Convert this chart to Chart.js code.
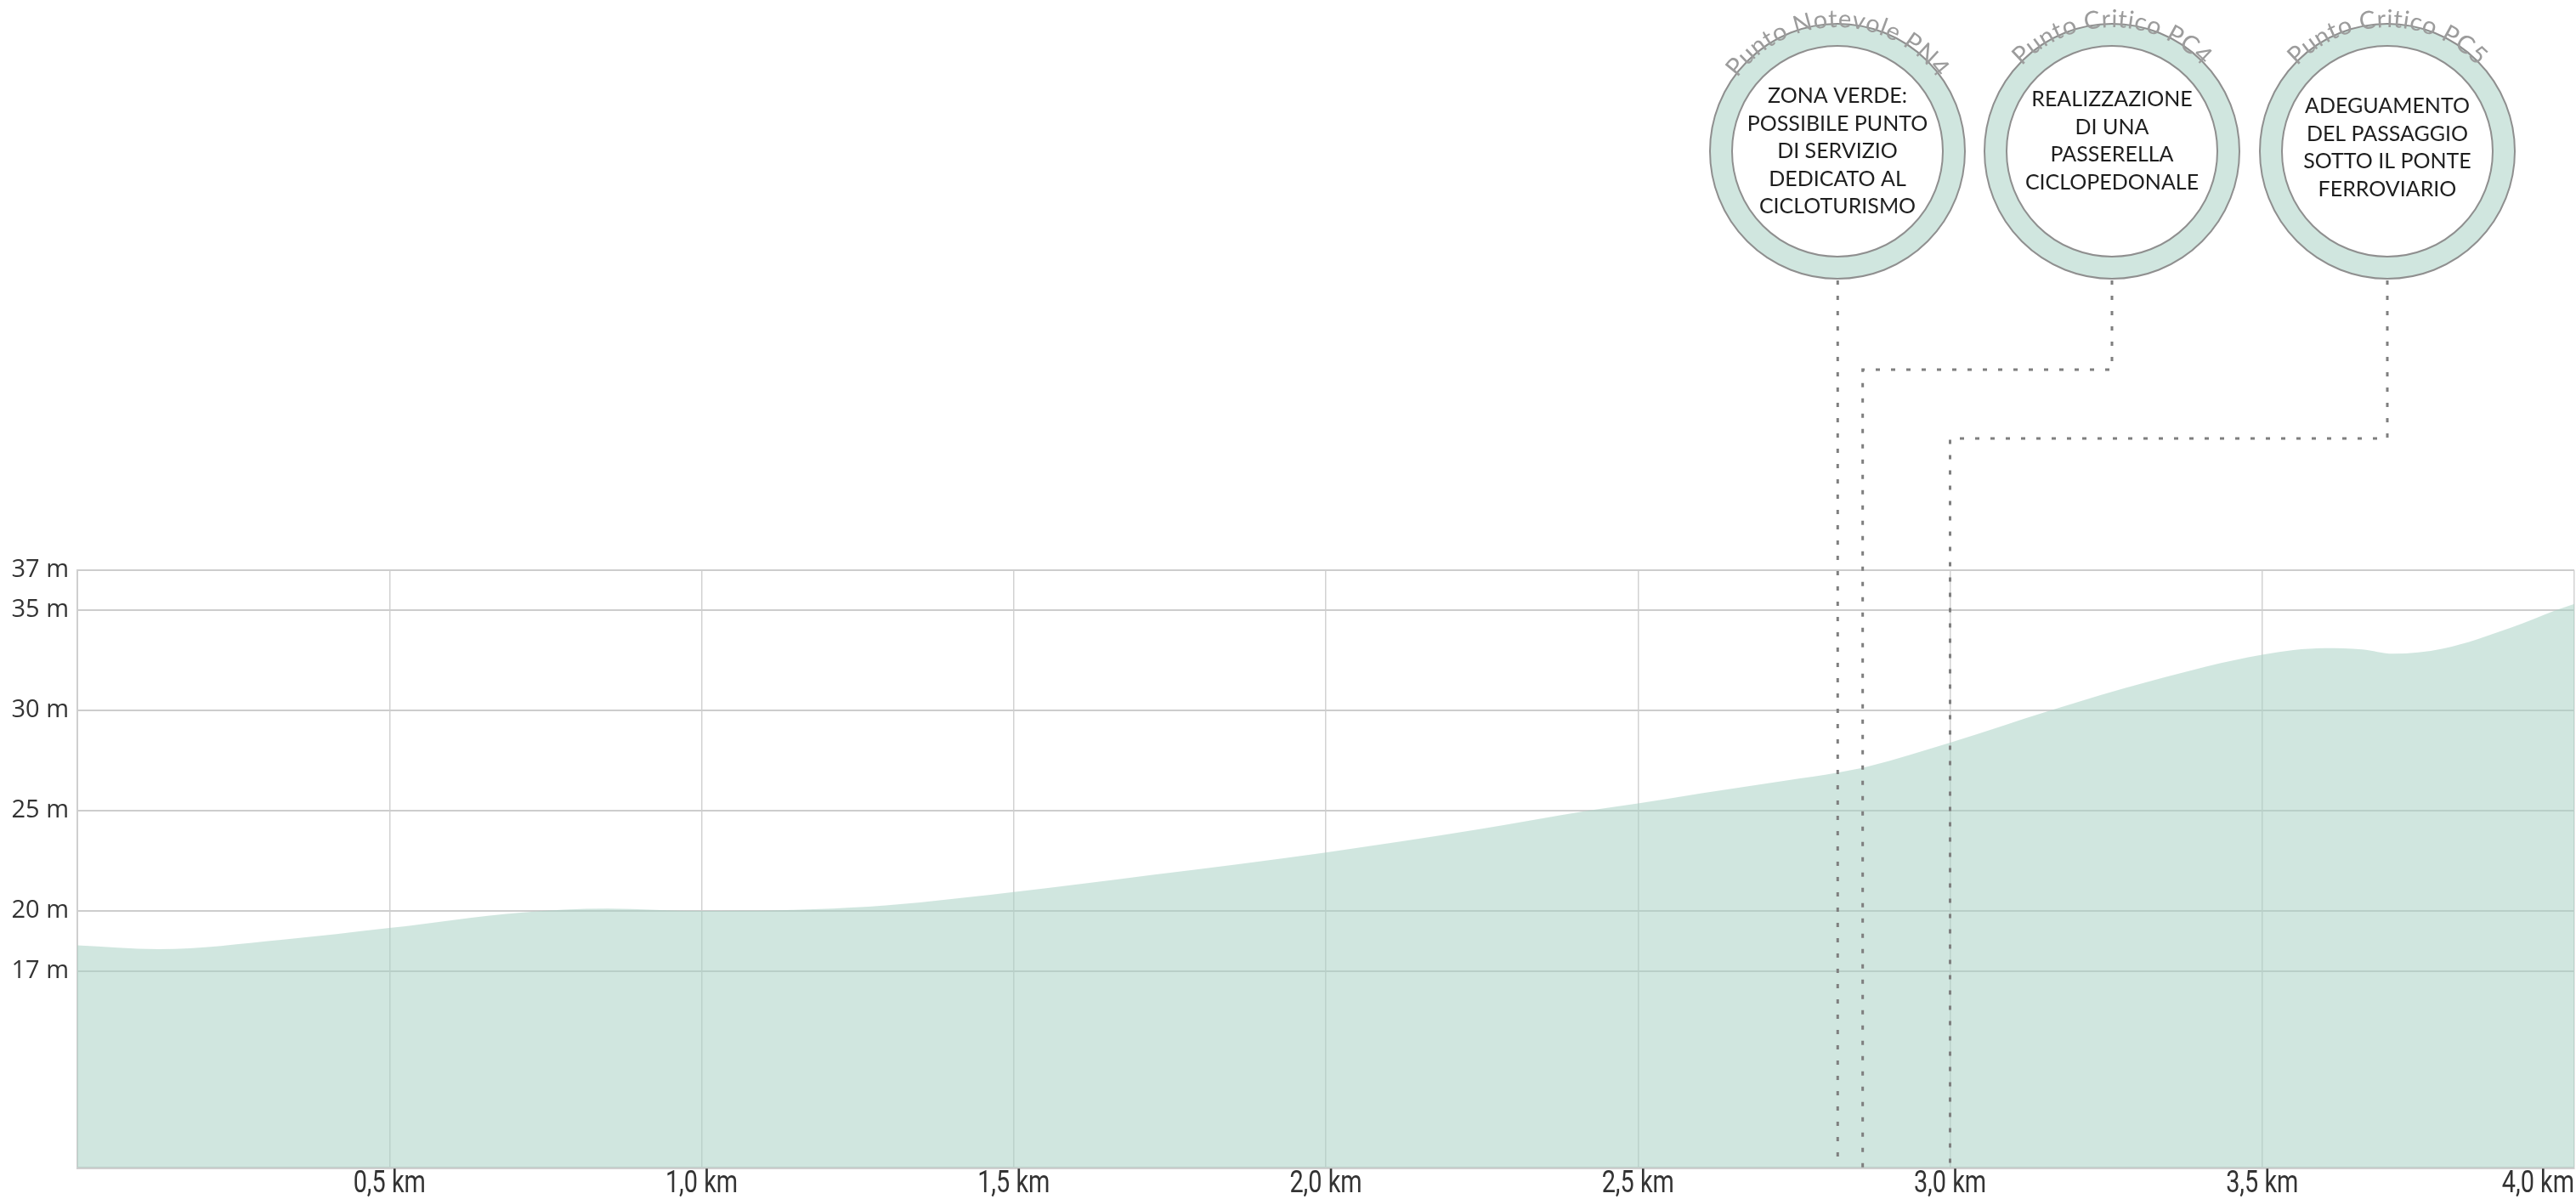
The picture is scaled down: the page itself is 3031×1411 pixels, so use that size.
<!DOCTYPE html>
<html lang="it">
<head>
<meta charset="utf-8">
<title>Profilo altimetrico</title>
<script src="https://cdn.jsdelivr.net/npm/chart.js@4/dist/chart.umd.min.js"></script>
<style>
    html, body { margin: 0; padding: 0; background: #ffffff; }
    #wrap { position: relative; width: 3031px; height: 1411px; }
</style>
</head>
<body>
<div id="wrap"><canvas id="profileChart"></canvas></div>
<script>
// Distance along the route (km) and ground elevation (m).
const distanceKm = [0.00, 0.13, 0.33, 0.50, 0.71, 0.85, 1.00, 1.12, 1.24, 1.35, 1.50, 1.72, 2.00, 2.24, 2.42, 2.50, 2.60, 2.74, 2.82, 2.87, 3.00, 3.16, 3.32, 3.50, 3.60, 3.66, 3.71, 3.79, 3.90, 3.97, 4.00];
const elevationM = [18.28, 18.09, 18.57, 19.15, 19.92, 20.12, 20.00, 20.03, 20.17, 20.43, 20.94, 21.79, 22.92, 24.05, 25.00, 25.36, 25.86, 26.52, 26.90, 27.22, 28.40, 30.00, 31.46, 32.78, 33.11, 33.05, 32.83, 33.09, 34.15, 35.00, 35.32];

// Axis ticks.
const elevationTicks = [17, 20, 25, 30, 35, 37];
const distanceTicks = [0, 0.5, 1.0, 1.5, 2.0, 2.5, 3.0, 3.5, 4.0];

// Points along the route with their callouts.
const poiKm = [2.82, 2.86, 3.00];
const poiTitles = ['Punto Notevole PN4', 'Punto Critico PC4', 'Punto Critico PC5'];
const poiNotes = [
    ['ZONA VERDE:', 'POSSIBILE PUNTO', 'DI SERVIZIO', 'DEDICATO AL', 'CICLOTURISMO'],
    ['REALIZZAZIONE', 'DI UNA', 'PASSERELLA', 'CICLOPEDONALE'],
    ['ADEGUAMENTO', 'DEL PASSAGGIO', 'SOTTO IL PONTE', 'FERROVIARIO'],
];

// Callout placement (pixels).
const badgeX = [2162, 2485, 2809];
const badgeY = 178;
const badgeOuter = 150;
const badgeInner = 124;
const elbowY = [null, 435, 516];
const noteShift = [0, -12, -4];

const ringColor = '#d0e6df';
const outlineColor = '#8f8f8f';
const leaderColor = '#7f7f7f';

const kmLabel = v => v.toFixed(1).replace('.', ',') + ' km';

// Writes text along the top of a circle, centred on 12 o'clock.
function drawArcText(ctx, text, cx, cy, r) {
    const spacing = 0.5;
    const chars = [...text];
    const widths = chars.map(ch => ctx.measureText(ch).width);
    const total = widths.reduce((a, b) => a + b, 0) + spacing * (chars.length - 1);
    let angle = -Math.PI / 2 - total / (2 * r);
    chars.forEach((ch, i) => {
        const a = angle + widths[i] / (2 * r);
        ctx.save();
        ctx.translate(cx + r * Math.cos(a), cy + r * Math.sin(a));
        ctx.rotate(a + Math.PI / 2);
        ctx.fillText(ch, 0, 0);
        ctx.restore();
        angle += (widths[i] + spacing) / r;
    });
}

// Distance labels in a narrow face: the x scale places them, the canvas squeezes them.
const narrowTicksPlugin = {
    id: 'narrowTicks',
    afterDraw(chart) {
        const ctx = chart.ctx;
        const xScale = chart.scales.x;
        const right = chart.chartArea.right;
        const squeeze = 0.78;
        ctx.save();
        ctx.fillStyle = '#333333';
        ctx.font = '37px Roboto, sans-serif';
        ctx.textBaseline = 'middle';
        distanceTicks.forEach(v => {
            if (v === 0) return;
            const text = kmLabel(v);
            const w = ctx.measureText(text).width * squeeze;
            let px = xScale.getPixelForValue(v) - w / 2;
            if (px + w > right) px = right - w;
            ctx.save();
            ctx.translate(px, xScale.top + 20);
            ctx.scale(squeeze, 1);
            ctx.textAlign = 'left';
            ctx.fillText(text, 0, 0);
            ctx.restore();
        });
        ctx.restore();
    }
};

const calloutPlugin = {
    id: 'callouts',
    afterDatasetsDraw(chart) {
        // Dotted leaders from each badge down to its point on the route.
        const ctx = chart.ctx;
        const xScale = chart.scales.x;
        const bottom = chart.chartArea.bottom;
        ctx.save();
        ctx.strokeStyle = leaderColor;
        ctx.lineWidth = 3;
        ctx.setLineDash([5, 13]);
        poiKm.forEach((km, i) => {
            const px = xScale.getPixelForValue(km);
            const top = badgeY + badgeOuter + 2;
            ctx.beginPath();
            if (elbowY[i] === null) {
                ctx.moveTo(px, top);
            } else {
                ctx.moveTo(badgeX[i], top);
                ctx.lineTo(badgeX[i], elbowY[i]);
                ctx.lineTo(px, elbowY[i]);
            }
            ctx.lineTo(px, bottom);
            ctx.stroke();
        });
        ctx.restore();
    },
    afterDraw(chart) {
        const ctx = chart.ctx;
        ctx.save();
        poiTitles.forEach((title, i) => {
            const cx = badgeX[i];

            // Ring.
            ctx.beginPath();
            ctx.arc(cx, badgeY, badgeOuter, 0, Math.PI * 2);
            ctx.fillStyle = ringColor;
            ctx.fill();
            ctx.lineWidth = 2;
            ctx.strokeStyle = outlineColor;
            ctx.stroke();

            // White centre.
            ctx.beginPath();
            ctx.arc(cx, badgeY, badgeInner, 0, Math.PI * 2);
            ctx.fillStyle = '#ffffff';
            ctx.fill();
            ctx.stroke();

            // Title on the arc.
            ctx.fillStyle = '#9c9c9c';
            ctx.font = '400 29px Lato, "Open Sans", sans-serif';
            ctx.textAlign = 'center';
            ctx.textBaseline = 'alphabetic';
            drawArcText(ctx, title, cx, badgeY, 146);

            // Note inside the badge.
            const lines = poiNotes[i];
            const lh = 32.5;
            ctx.fillStyle = '#1e1e1e';
            ctx.font = '25px Lato, "Open Sans", sans-serif';
            ctx.textBaseline = 'middle';
            const y0 = badgeY + noteShift[i] - (lines.length - 1) * lh / 2;
            lines.forEach((line, k) => ctx.fillText(line, cx, y0 + k * lh));
        });
        ctx.restore();
    }
};

const ctx = document.getElementById('profileChart').getContext('2d');

const profileChart = new Chart(ctx, {
    type: 'line',
    data: {
        datasets: [{
            label: 'Quota',
            data: distanceKm.map((km, i) => ({ x: km, y: elevationM[i] })),
            backgroundColor: 'rgba(170, 210, 197, 0.55)',
            borderWidth: 0,
            pointRadius: 0,
            fill: 'start',
            cubicInterpolationMode: 'monotone',
        }]
    },
    options: {
        responsive: true,
        maintainAspectRatio: false,
        animation: false,
        layout: {
            padding: { top: 671, right: 2, bottom: 0, left: 0 }
        },
        plugins: {
            legend: { display: false },
            tooltip: { enabled: false },
        },
        scales: {
            x: {
                type: 'linear',
                min: 0,
                max: 4,
                afterBuildTicks: scale => {
                    scale.ticks = distanceTicks.map(v => ({ value: v }));
                },
                afterFit: scale => { scale.height = 37; },
                grid: { color: '#d2d2d2', lineWidth: 1.5, drawTicks: false },
                border: { color: '#cfcfcf', width: 3 },
                ticks: {
                    display: false,
                    autoSkip: false,
                    callback: v => kmLabel(v),
                }
            },
            y: {
                min: 7.2,
                max: 37,
                afterBuildTicks: scale => {
                    scale.ticks = elevationTicks.map(v => ({ value: v }));
                },
                afterFit: scale => { scale.width = 91; },
                grid: { color: '#cdcdcd', lineWidth: 2, drawTicks: false },
                border: { color: '#cfcfcf', width: 2 },
                ticks: {
                    padding: 10,
                    color: '#333333',
                    font: { family: '"Open Sans", sans-serif', size: 29 },
                    callback: v => v + ' m',
                }
            }
        }
    },
    plugins: [calloutPlugin, narrowTicksPlugin]
});
</script>
</body>
</html>
